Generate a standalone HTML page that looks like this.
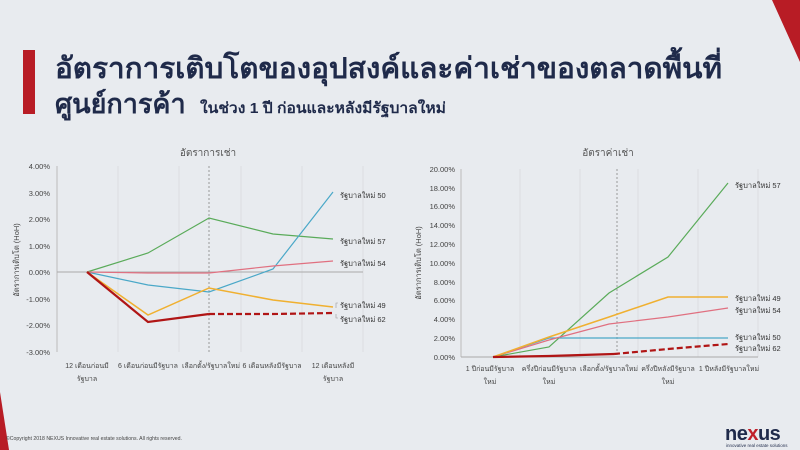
<!DOCTYPE html>
<html><head><meta charset="utf-8"><style>
html,body{margin:0;padding:0;width:800px;height:450px;overflow:hidden;background:#e8ebef}
svg{display:block}
text{font-family:"Liberation Sans","Noto Sans CJK SC",sans-serif}
</style></head><body>
<svg width="800" height="450" viewBox="0 0 800 450" xmlns="http://www.w3.org/2000/svg">
<rect width="800" height="450" fill="#e8ebef"/>
<polygon points="772,0 800,0 800,62" fill="#b81c25"/>
<polygon points="0,392 9,450 0,450" fill="#b81c25"/>
<rect x="23" y="50" width="12" height="64" fill="#b81c25"/>
<text x="55" y="78" font-size="29" font-weight="bold" fill="#1f2a4a" textLength="667" lengthAdjust="spacingAndGlyphs">อัตราการเติบโตของอุปสงค์และค่าเช่าของตลาดพื้นที่</text>
<text x="55" y="113" font-size="27" font-weight="bold" fill="#1f2a4a">ศูนย์การค้า</text>
<text x="200" y="113" font-size="15" font-weight="bold" fill="#1f2a4a" textLength="246" lengthAdjust="spacingAndGlyphs">ในช่วง 1 ปี ก่อนและหลังมีรัฐบาลใหม่</text>

<!-- LEFT CHART -->
<text x="208" y="156" font-size="10" fill="#555" text-anchor="middle">อัตราการเช่า</text>
<g stroke="#d8dadd" stroke-width="0.8">
<line x1="118" y1="166" x2="118" y2="352"/><line x1="179" y1="166" x2="179" y2="352"/>
<line x1="241" y1="166" x2="241" y2="352"/><line x1="302" y1="166" x2="302" y2="352"/><line x1="363" y1="166" x2="363" y2="352"/>
</g>
<line x1="57" y1="166" x2="57" y2="352" stroke="#bbb"/>
<line x1="57" y1="272" x2="363" y2="272" stroke="#aaa"/>
<line x1="209" y1="166" x2="209" y2="352" stroke="#999" stroke-dasharray="2,2"/>
<g font-size="7.5" fill="#444" text-anchor="end">
<text x="50" y="169">4.00%</text><text x="50" y="196">3.00%</text><text x="50" y="222">2.00%</text>
<text x="50" y="249">1.00%</text><text x="50" y="275">0.00%</text><text x="50" y="302">-1.00%</text>
<text x="50" y="328">-2.00%</text><text x="50" y="355">-3.00%</text>
</g>
<text transform="translate(19,260) rotate(-90)" font-size="7.5" fill="#444" text-anchor="middle">อัตราการเติบโต (HoH)</text>
<g font-size="7" fill="#444" text-anchor="middle">
<text x="87" y="368">12 เดือนก่อนมี</text><text x="87" y="381">รัฐบาล</text>
<text x="148" y="368">6 เดือนก่อนมีรัฐบาล</text>
<text x="211" y="368">เลือกตั้ง/รัฐบาลใหม่</text>
<text x="272" y="368">6 เดือนหลังมีรัฐบาล</text>
<text x="333" y="368">12 เดือนหลังมี</text><text x="333" y="381">รัฐบาล</text>
</g>
<g fill="none" stroke-width="1.2">
<polyline stroke="#5aab5a" points="87,272 148,253 209,218 273,234 333,239"/>
<polyline stroke="#4aa8c8" points="87,272 148,285 209,292 273,269 333,192"/>
<polyline stroke="#e07080" points="87,272 148,273 209,273 273,266 333,261"/>
<polyline stroke="#f0b030" stroke-width="1.5" points="87,272 148,315 209,288 273,300 333,307"/>
<polyline stroke="#b01515" stroke-width="2.2" points="87,272 148,322 209,314"/>
<polyline stroke="#b01515" stroke-width="2.2" stroke-dasharray="6,3" points="209,314 273,314 333,313"/>
</g>
<g font-size="7.5" fill="#333">
<text x="340" y="198">รัฐบาลใหม่ 50</text><text x="340" y="244">รัฐบาลใหม่ 57</text>
<text x="340" y="266">รัฐบาลใหม่ 54</text><text x="340" y="308">รัฐบาลใหม่ 49</text>
<text x="340" y="322">รัฐบาลใหม่ 62</text>
</g>
<path d="M338,303 h-2 v5 M338,318 h-2 v-4" stroke="#999" fill="none" stroke-width="0.6"/>

<!-- RIGHT CHART -->
<text x="608" y="156" font-size="10" fill="#555" text-anchor="middle">อัตราค่าเช่า</text>
<g stroke="#d8dadd" stroke-width="0.8">
<line x1="520" y1="169" x2="520" y2="357"/><line x1="580" y1="169" x2="580" y2="357"/>
<line x1="638" y1="169" x2="638" y2="357"/><line x1="698" y1="169" x2="698" y2="357"/><line x1="758" y1="169" x2="758" y2="357"/>
</g>
<line x1="461" y1="169" x2="461" y2="357" stroke="#bbb"/>
<line x1="461" y1="357" x2="758" y2="357" stroke="#aaa"/>
<line x1="617" y1="169" x2="617" y2="357" stroke="#999" stroke-dasharray="2,2"/>
<g font-size="7.5" fill="#444" text-anchor="end">
<text x="455" y="172">20.00%</text><text x="455" y="191">18.00%</text><text x="455" y="209">16.00%</text>
<text x="455" y="228">14.00%</text><text x="455" y="247">12.00%</text><text x="455" y="266">10.00%</text>
<text x="455" y="285">8.00%</text><text x="455" y="303">6.00%</text><text x="455" y="322">4.00%</text>
<text x="455" y="341">2.00%</text><text x="455" y="360">0.00%</text>
</g>
<text transform="translate(421,263) rotate(-90)" font-size="7.5" fill="#444" text-anchor="middle">อัตราการเติบโต (HoH)</text>
<g font-size="7" fill="#444" text-anchor="middle">
<text x="490" y="371">1 ปีก่อนมีรัฐบาล</text><text x="490" y="384">ใหม่</text>
<text x="549" y="371">ครึ่งปีก่อนมีรัฐบาล</text><text x="549" y="384">ใหม่</text>
<text x="609" y="371">เลือกตั้ง/รัฐบาลใหม่</text>
<text x="668" y="371">ครึ่งปีหลังมีรัฐบาล</text><text x="668" y="384">ใหม่</text>
<text x="729" y="371">1 ปีหลังมีรัฐบาลใหม่</text>
</g>
<g fill="none" stroke-width="1.2">
<polyline stroke="#5aab5a" points="493,357 549,347 609,293 668,257 728,183"/>
<polyline stroke="#4aa8c8" points="493,357 549,338 609,338 668,338 728,338"/>
<polyline stroke="#e07080" points="493,357 549,340 609,324 668,317 728,308"/>
<polyline stroke="#f0b030" stroke-width="1.5" points="493,357 549,337 609,317 668,297 728,297"/>
<polyline stroke="#b01515" stroke-width="2.2" points="493,357 549,356 614,354"/>
<polyline stroke="#b01515" stroke-width="2.2" stroke-dasharray="6,3" points="614,354 668,349 728,344"/>
</g>
<g font-size="7.5" fill="#333">
<text x="735" y="188">รัฐบาลใหม่ 57</text><text x="735" y="301">รัฐบาลใหม่ 49</text>
<text x="735" y="313">รัฐบาลใหม่ 54</text><text x="735" y="340">รัฐบาลใหม่ 50</text>
<text x="735" y="351">รัฐบาลใหม่ 62</text>
</g>

<text x="6" y="440" font-size="5" fill="#444" textLength="176" lengthAdjust="spacingAndGlyphs">©Copyright 2018 NEXUS Innovative real estate solutions. All rights reserved.</text>
<text x="725" y="440" font-size="20" font-weight="bold" fill="#1f2a4a" letter-spacing="-0.5">ne<tspan fill="#c0202a">x</tspan>us</text>
<text x="726" y="447" font-size="4.5" fill="#1f2a4a">innovative real estate solutions</text>
</svg>
</body></html>
